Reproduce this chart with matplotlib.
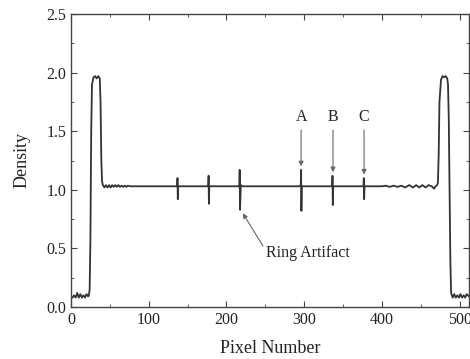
import matplotlib
matplotlib.use("Agg")
import matplotlib.pyplot as plt
from matplotlib.ticker import MultipleLocator, FormatStrFormatter

# density profile across the phantom, (pixel, density) knots
left_edge = [(0, 0.09), (2, 0.08), (4, 0.10), (6, 0.08), (8, 0.12), (10, 0.08), (12, 0.11),
             (14, 0.08), (16, 0.10), (18, 0.08), (20, 0.11), (22, 0.09), (23, 0.10),
             (24, 0.15), (25, 0.6), (26, 1.5), (27, 1.90), (29, 1.96), (31, 1.97),
             (33, 1.95), (35, 1.97), (37, 1.95), (38, 1.75), (39, 1.25), (40, 1.07)]
baseline_left = [(41, 1.04), (43, 1.02), (45, 1.04), (47, 1.02), (49, 1.04), (51, 1.02),
                 (53, 1.04), (55, 1.025), (57, 1.04), (59, 1.025), (61, 1.04), (63, 1.025),
                 (65, 1.035), (67, 1.025), (69, 1.035), (71, 1.025), (73, 1.035),
                 (76, 1.03), (90, 1.03)]
spikes = [(136.6, 1.03), (137, 1.10), (137.4, 0.92), (137.9, 1.03),
          (176.6, 1.03), (177, 1.12), (177.4, 0.88), (177.9, 1.03),
          (216.6, 1.03), (217, 1.17), (217.4, 0.83), (218.5, 1.04), (221, 1.03),
          (294, 1.03), (295.6, 1.04), (296, 1.17), (296.4, 0.82), (296.9, 1.03),
          (336, 1.03), (336.4, 1.12), (336.8, 0.87), (337.3, 1.03),
          (376.3, 1.03), (376.7, 1.10), (377.1, 0.92), (377.6, 1.03)]
baseline_right = [(400, 1.03), (405, 1.035), (410, 1.025), (415, 1.035), (420, 1.025),
                  (425, 1.035), (430, 1.02), (435, 1.04), (440, 1.02), (444, 1.04),
                  (448, 1.02), (452, 1.04), (456, 1.02), (460, 1.04), (464, 1.03),
                  (467, 1.01), (469, 1.03), (471, 1.04)]
right_edge = [(472, 1.06), (473, 1.3), (474, 1.75), (476, 1.94), (478, 1.97), (480, 1.96),
              (482, 1.97), (484, 1.95), (485, 1.9), (486, 1.6), (487, 1.0), (488, 0.4),
              (489, 0.12), (491, 0.08), (493, 0.11), (495, 0.08), (497, 0.10), (499, 0.08),
              (501, 0.11), (503, 0.08), (505, 0.10), (507, 0.08), (509, 0.11), (512, 0.09)]

# labelled artifacts: text position and arrow from/to
labels = ["A", "B", "C"]
label_x = [296, 337, 377]
label_y = [1.62, 1.62, 1.62]
arrow_top = [1.51, 1.51, 1.51]
arrow_tip = [1.20, 1.15, 1.13]

ring_text = "Ring Artifact"
ring_text_xy = (251, 0.46)
ring_tip_xy = (221, 0.80)
ring_tail_xy = (247, 0.52)

profile = left_edge + baseline_left + spikes + baseline_right + right_edge
pixel = [p[0] for p in profile]
density = [p[1] for p in profile]

plt.rcParams['font.family'] = ['Liberation Serif', 'DejaVu Serif']
plt.rcParams['font.size'] = 11.5

fig = plt.figure(figsize=(4.70, 3.59), dpi=100)
ax = fig.add_axes([71 / 470, 1 - 307 / 359, 398 / 470, 293 / 359])

ax.plot(pixel, density, color='#333333', lw=1.3)

for lab, x, y, y0, y1 in zip(labels, label_x, label_y, arrow_top, arrow_tip):
    ax.text(x, y, lab, ha='center', va='center', fontsize=11.5, color='#222222')
    ax.annotate('', xy=(x, y1), xytext=(x, y0),
                arrowprops=dict(arrowstyle='-|>', color='#666666', lw=0.8,
                                mutation_scale=7, shrinkA=0, shrinkB=0))

ax.text(ring_text_xy[0], ring_text_xy[1], ring_text, ha='left', va='center',
        fontsize=11.5, color='#222222')
ax.annotate('', xy=ring_tip_xy, xytext=ring_tail_xy,
            arrowprops=dict(arrowstyle='-|>', color='#666666', lw=0.8,
                            mutation_scale=7, shrinkA=0, shrinkB=0))

ax.set_xlim(0, 512)
ax.set_ylim(0, 2.5)
ax.xaxis.set_major_locator(MultipleLocator(100))
ax.xaxis.set_minor_locator(MultipleLocator(50))
ax.yaxis.set_major_locator(MultipleLocator(0.5))
ax.yaxis.set_minor_locator(MultipleLocator(0.25))
ax.yaxis.set_major_formatter(FormatStrFormatter('%.1f'))
ax.tick_params(which='both', direction='in', top=True, right=True, color='#444444',
               labelcolor='#222222')
ax.tick_params(which='major', length=4)
ax.tick_params(which='minor', length=2.5)
for s in ax.spines.values():
    s.set_color('#444444')
    s.set_linewidth(1.0)

ax.set_xlabel('Pixel Number', fontsize=13, labelpad=9, color='#222222')
ax.set_ylabel('Density', fontsize=13, labelpad=11, color='#222222')

fig.savefig('out.png', dpi=100)
